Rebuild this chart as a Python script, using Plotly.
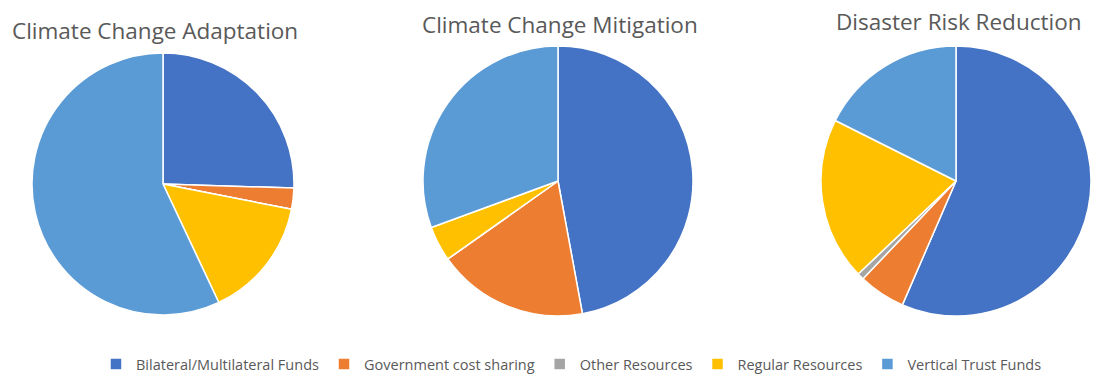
import plotly.graph_objects as go

labels = ["Bilateral/Multilateral Funds", "Government cost sharing", "Other Resources",
          "Regular Resources", "Vertical Trust Funds"]
colors = ["#4472C4", "#ED7D31", "#A5A5A5", "#FFC000", "#5B9BD5"]

titles = ["Climate Change Adaptation", "Climate Change Mitigation", "Disaster Risk Reduction"]
adaptation = [25.5, 2.6, 0.0, 14.9, 57.0]
mitigation = [47.1, 18.1, 0.0, 4.2, 30.6]
drr = [56.5, 5.6, 0.8, 19.5, 17.6]

W, H = 1099, 377
sizes = [262, 270, 270]
centers = [(163, 184), (558, 181), (956, 181)]
series = [adaptation, mitigation, drr]

fig = go.Figure()
for (cx, cy), d, vals in zip(centers, sizes, series):
    fig.add_trace(go.Pie(
        labels=labels, values=vals, sort=False, direction="clockwise", rotation=0,
        marker=dict(colors=colors, line=dict(color="white", width=1.5)),
        textinfo="none", hoverinfo="label+percent",
        domain=dict(x=[(cx - d / 2) / W, (cx + d / 2) / W],
                    y=[(H - cy - d / 2) / H, (H - cy + d / 2) / H]),
    ))

title_pos = [(10, 30), (420, 24), (834, 22)]
for t, (tx, ty) in zip(titles, title_pos):
    fig.add_annotation(text=t, x=tx / W, y=1 - ty / H, xref="paper", yref="paper",
                       xanchor="left", yanchor="middle", showarrow=False,
                       font=dict(family="Open Sans", size=22.5, color="#595959"))

fig.update_layout(
    width=W, height=H, margin=dict(l=0, r=0, t=0, b=0, autoexpand=False),
    paper_bgcolor="white", plot_bgcolor="white",
    font=dict(family="Open Sans", color="#595959"),
    legend=dict(orientation="h", x=0.52, xanchor="center", y=1 - 364 / H, yanchor="middle",
                font=dict(size=14.5, color="#595959"), traceorder="normal",
                itemwidth=30),
)
fig.write_html("out.html")
